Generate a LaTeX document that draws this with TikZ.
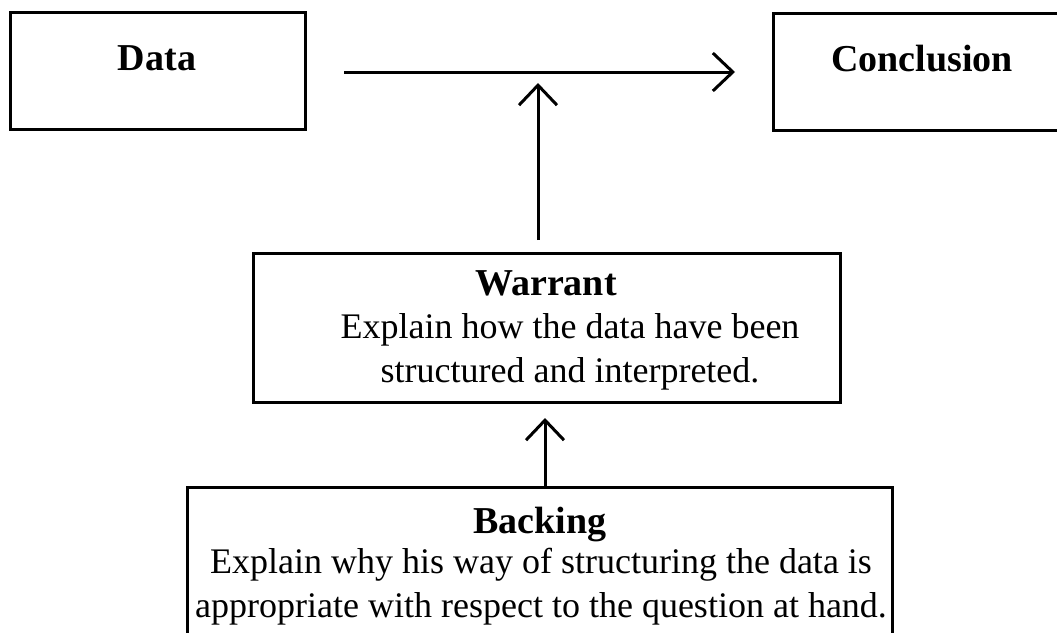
\documentclass[tikz,border=0pt]{standalone}
\usepackage{fontspec}
\setmainfont{Liberation Serif}
\usetikzlibrary{arrows.meta}
\begin{document}
\begin{tikzpicture}[x=1pt,y=-1pt,
  box/.style={draw=black, line width=3pt, rectangle, inner sep=0pt},
  title/.style={font=\fontsize{38}{44}\selectfont\bfseries, inner sep=0pt, anchor=base},
  body/.style={font=\fontsize{36}{43}\selectfont, inner sep=0pt, anchor=base},
  conn/.style={line width=3pt, -{Straight Barb[length=20pt,width=38pt,line width=3pt]}}]
\useasboundingbox (0,0) rectangle (1057,632);
\fill[white] (0,0) rectangle (1057,632);
% boxes
\node[box, minimum width=295pt, minimum height=117pt] (data) at (157.5,71) {};
\node[box, minimum width=298pt, minimum height=117pt] (concl) at (922,71.5) {};
\node[box, minimum width=587pt, minimum height=149pt] (warrant) at (546.5,327.5) {};
\node[box, minimum width=705pt, minimum height=190pt] (backing) at (539.5,582) {};
% texts
\node[title] (datatxt) at (157,70) {Data};
\node[title] (concltxt) at (922,71) {Conclusion};
\node[title] (warranttxt) at (546,295) {Warrant};
\node[body] (w1) at (570,338) {Explain how the data have been};
\node[body] (w2) at (570,382) {structured and interpreted.};
\node[title] (backingtxt) at (540,533) {Backing};
\node[body] (b1) at (541,573) {Explain why his way of structuring the data is};
\node[body] (b2) at (541,617) {appropriate with respect to the question at hand.};
% connectors
\coordinate (hstart) at (344,72);
\coordinate (hend) at (735,72);
\coordinate (v1start) at (538,240);
\coordinate (v1end) at (538,83);
\coordinate (v2start) at (545,487);
\coordinate (v2end) at (545,418);
\draw[conn] (hstart) -- (hend);
\draw[conn] (v1start) -- (v1end);
\draw[conn] (v2start) -- (v2end);
\end{tikzpicture}
\end{document}
